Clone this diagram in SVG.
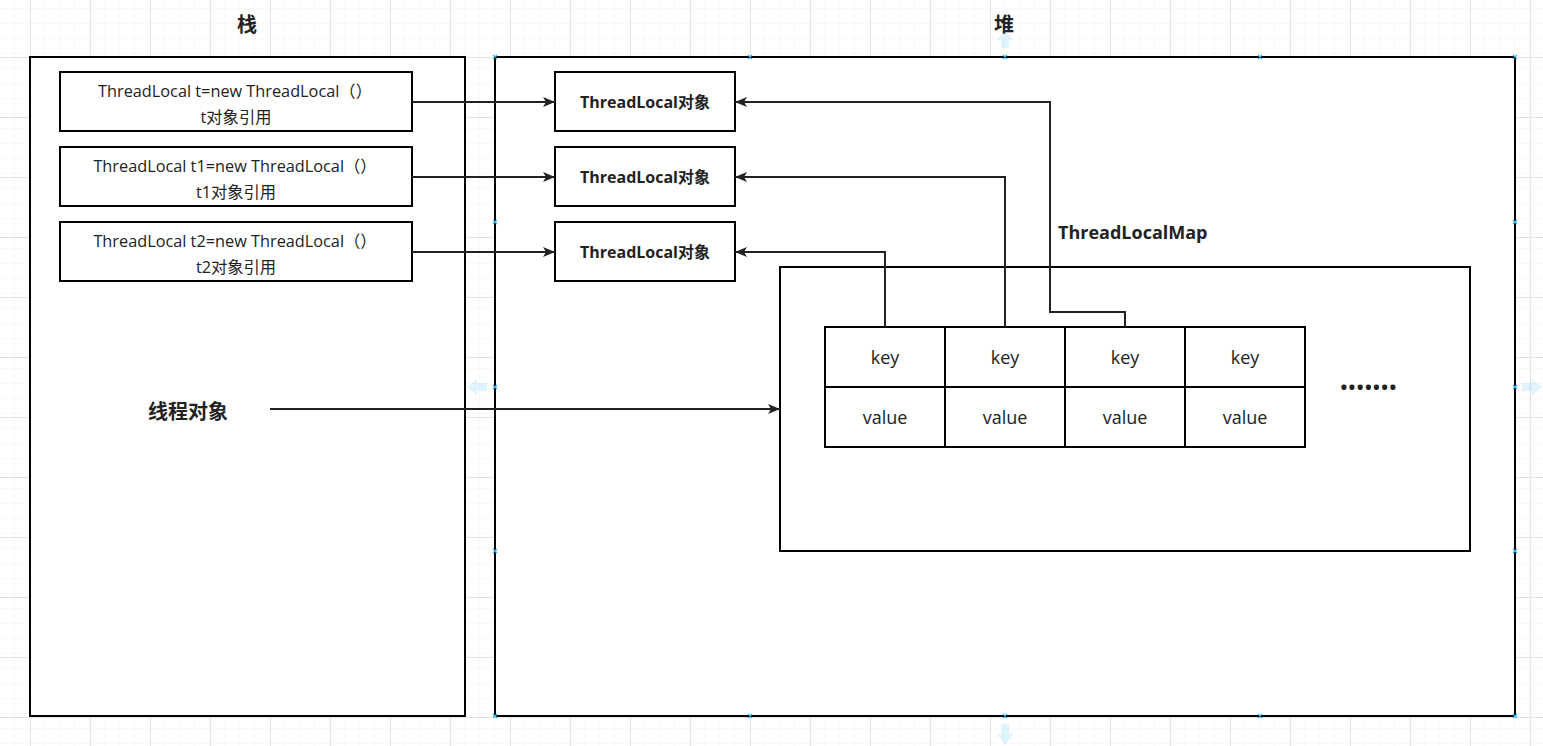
<svg xmlns="http://www.w3.org/2000/svg" width="1543" height="746" viewBox="0 0 1543 746">
  <style>
    .frame { fill: #ffffff; stroke: #000000; stroke-width: 2; }
    .box { fill: #ffffff; stroke: #000000; stroke-width: 2; }
    .cell { fill: #ffffff; stroke: #000000; stroke-width: 2; }
    .edge { fill: none; stroke: #222222; stroke-width: 2; }
    .t { font-family: "Open Sans", "Noto Sans CJK SC", sans-serif; fill: #222222; }
    .reg { font-size: 16.3px; text-anchor: middle; }
    .obj { font-size: 16px; text-anchor: middle; font-weight: bold; }
    .bold { font-weight: bold; }
    .cellt { font-size: 18px; text-anchor: middle; }
    .handle { stroke: #29b6f2; stroke-width: 1.2; fill: none; }
    .hover { fill: #29b6f2; opacity: 0.15; }
  </style>
  <defs>
    <pattern id="minor" x="0" y="-3" width="15" height="15" patternUnits="userSpaceOnUse">
      <path d="M15 0 V15 M0 15 H15" stroke="#f3f3f3" stroke-width="1" fill="none"/>
    </pattern>
    <pattern id="major" x="30" y="-3" width="60" height="60" patternUnits="userSpaceOnUse">
      <rect width="60" height="60" fill="url(#minor)"/>
      <path d="M0.5 0 V60 M0 0.5 H60" stroke="#e4e4e4" stroke-width="1" fill="none"/>
    </pattern>
    <marker id="arrow" viewBox="0 0 12 10" refX="12" refY="5" markerWidth="12" markerHeight="10" markerUnits="userSpaceOnUse" orient="auto">
      <path d="M0 0 L12 5 L0 10 L3 5 Z" fill="#222222"/>
    </marker>
  </defs>

  <rect width="1543" height="746" fill="#ffffff"/>
  <rect width="1543" height="746" fill="url(#major)"/>

  <g id="stack">
    <rect class="frame" x="30" y="57" width="435" height="659"/>
    <text class="t bold" x="247" y="32" font-size="20" text-anchor="middle">栈</text>
  </g>

  <g id="heap">
    <rect class="frame" x="495" y="57" width="1020" height="659"/>
    <text class="t bold" x="1004" y="32" font-size="20" text-anchor="middle">堆</text>
  </g>

  <g id="ref-t">
    <rect class="box" x="60" y="72" width="352" height="59"/>
    <text class="t reg" x="235" y="97">ThreadLocal t=new ThreadLocal（）</text>
    <text class="t reg" x="236" y="123">t对象引用</text>
  </g>
  <g id="ref-t1">
    <rect class="box" x="60" y="147" width="352" height="59"/>
    <text class="t reg" x="235" y="172">ThreadLocal t1=new ThreadLocal（）</text>
    <text class="t reg" x="236" y="198">t1对象引用</text>
  </g>
  <g id="ref-t2">
    <rect class="box" x="60" y="222" width="352" height="59"/>
    <text class="t reg" x="235" y="247">ThreadLocal t2=new ThreadLocal（）</text>
    <text class="t reg" x="236" y="273">t2对象引用</text>
  </g>

  <g id="thread-object">
    <text class="t bold" x="188" y="419" font-size="20" text-anchor="middle">线程对象</text>
  </g>

  <g id="tl-obj-1">
    <rect class="box" x="555" y="72" width="180" height="59"/>
    <text class="t obj" x="645" y="108">ThreadLocal对象</text>
  </g>
  <g id="tl-obj-2">
    <rect class="box" x="555" y="147" width="180" height="59"/>
    <text class="t obj" x="645" y="183">ThreadLocal对象</text>
  </g>
  <g id="tl-obj-3">
    <rect class="box" x="555" y="222" width="180" height="59"/>
    <text class="t obj" x="645" y="258">ThreadLocal对象</text>
  </g>

  <g id="threadlocalmap">
    <text class="t bold" x="1058" y="239" font-size="18">ThreadLocalMap</text>
    <rect class="frame" x="780" y="267" width="690" height="284"/>
  </g>

  <g id="entries">
    <g id="entry-1">
      <rect class="cell" x="825" y="327" width="120" height="60"/>
      <rect class="cell" x="825" y="387" width="120" height="60"/>
      <text class="t cellt" x="885" y="364">key</text>
      <text class="t cellt" x="885" y="424">value</text>
    </g>
    <g id="entry-2">
      <rect class="cell" x="945" y="327" width="120" height="60"/>
      <rect class="cell" x="945" y="387" width="120" height="60"/>
      <text class="t cellt" x="1005" y="364">key</text>
      <text class="t cellt" x="1005" y="424">value</text>
    </g>
    <g id="entry-3">
      <rect class="cell" x="1065" y="327" width="120" height="60"/>
      <rect class="cell" x="1065" y="387" width="120" height="60"/>
      <text class="t cellt" x="1125" y="364">key</text>
      <text class="t cellt" x="1125" y="424">value</text>
    </g>
    <g id="entry-4">
      <rect class="cell" x="1185" y="327" width="120" height="60"/>
      <rect class="cell" x="1185" y="387" width="120" height="60"/>
      <text class="t cellt" x="1245" y="364">key</text>
      <text class="t cellt" x="1245" y="424">value</text>
    </g>
    <text class="t bold" x="1369" y="394" font-size="18" text-anchor="middle" letter-spacing="1.4">•••••••</text>
  </g>

  <g id="connectors">
    <path class="edge" d="M412 102 H555" marker-end="url(#arrow)"/>
    <path class="edge" d="M412 177 H555" marker-end="url(#arrow)"/>
    <path class="edge" d="M412 252 H555" marker-end="url(#arrow)"/>
    <path class="edge" d="M270 409 H780" marker-end="url(#arrow)"/>
    <path class="edge" d="M885 327 V252 H735" marker-end="url(#arrow)"/>
    <path class="edge" d="M1005 327 V177 H735" marker-end="url(#arrow)"/>
    <path class="edge" d="M1125 327 V312 H1050 V102 H735" marker-end="url(#arrow)"/>
  </g>

  <g id="selection-handles">
    <path class="hover" d="M1001 48 V40 H997 L1005 30 L1013 40 H1009 V48 Z"/>
    <path class="hover" d="M487 383 H477 V379 L467 387 L477 395 V391 H487 Z"/>
    <path class="hover" d="M1522 383 H1532 V379 L1542 387 L1532 395 V391 H1522 Z"/>
    <path class="hover" d="M1001 724 V734 H997 L1005 745 L1013 734 H1009 V724 Z"/>
    <path class="handle" d="M493 55 l4 4 m0 -4 l-4 4 M748 55 l4 4 m0 -4 l-4 4 M1003 55 l4 4 m0 -4 l-4 4 M1258 55 l4 4 m0 -4 l-4 4 M1513 55 l4 4 m0 -4 l-4 4"/>
    <path class="handle" d="M493 220 l4 4 m0 -4 l-4 4 M493 385 l4 4 m0 -4 l-4 4 M493 549 l4 4 m0 -4 l-4 4 M493 714 l4 4 m0 -4 l-4 4"/>
    <path class="handle" d="M1513 220 l4 4 m0 -4 l-4 4 M1513 385 l4 4 m0 -4 l-4 4 M1513 549 l4 4 m0 -4 l-4 4 M1513 714 l4 4 m0 -4 l-4 4"/>
    <path class="handle" d="M748 714 l4 4 m0 -4 l-4 4 M1003 714 l4 4 m0 -4 l-4 4 M1258 714 l4 4 m0 -4 l-4 4"/>
  </g>
</svg>
